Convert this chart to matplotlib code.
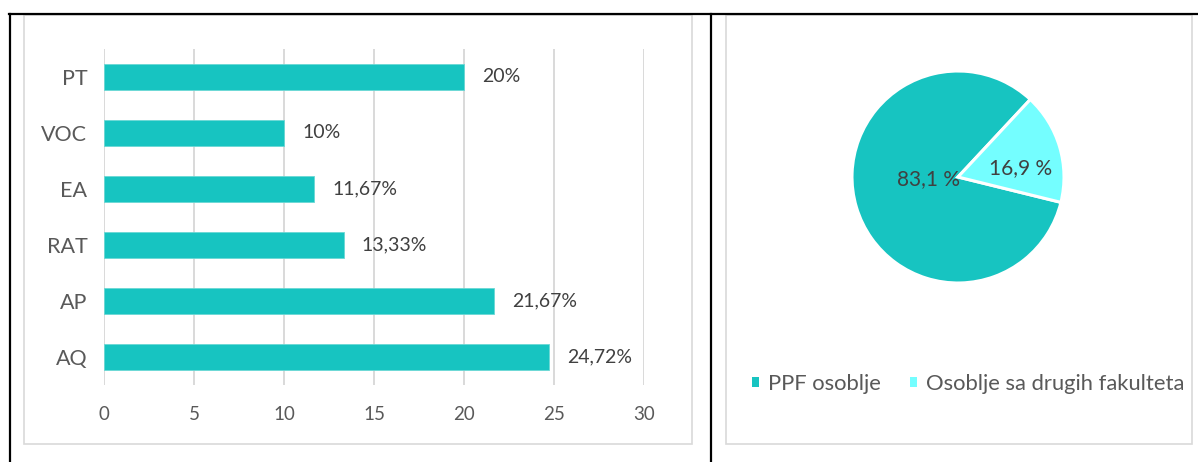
import matplotlib
matplotlib.use("Agg")
import matplotlib.pyplot as plt
from matplotlib.lines import Line2D
from matplotlib.patches import Rectangle

plt.rcParams['font.family'] = ['Lato', 'DejaVu Sans']

# ---- data ----
categories = ["PT", "VOC", "EA", "RAT", "AP", "AQ"]
values = [20, 10, 11.67, 13.33, 21.67, 24.72]
value_labels = ["20%", "10%", "11,67%", "13,33%", "21,67%", "24,72%"]
x_ticks = [0, 5, 10, 15, 20, 25, 30]

pie_labels = ["PPF osoblje", "Osoblje sa drugih fakulteta"]
pie_values = [83.1, 16.9]
pie_texts = ["83,1 %", "16,9 %"]

W, H = 1198, 462
fig = plt.figure(figsize=(W / 100, H / 100), dpi=100)

def fx(px):
    return px / W

def fy(py):
    return 1 - py / H

BAR = '#17C4C1'
LIGHT = '#74FEFF'
TXT = '#595959'
LBL = '#404040'
GRID = '#D9D9D9'

# ---- borders ----
for (x0, y0, x1, y1) in [(24, 15, 692, 444), (726, 15, 1192, 444)]:
    fig.add_artist(Rectangle((fx(x0), fy(y1)), fx(x1) - fx(x0), fy(y0) - fy(y1),
                             transform=fig.transFigure, fill=False,
                             edgecolor=GRID, linewidth=1.2))
fig.add_artist(Line2D([fx(9), fx(1198)], [fy(14), fy(14)], transform=fig.transFigure,
                      color='black', linewidth=1.6))
for xv in (10, 711):
    fig.add_artist(Line2D([fx(xv), fx(xv)], [fy(14), fy(462)], transform=fig.transFigure,
                          color='black', linewidth=1.6))

# ---- bar chart ----
ax = fig.add_axes([fx(104), fy(385), fx(644) - fx(104), fy(49) - fy(385)])
ypos = list(range(len(categories)))[::-1]
ax.barh(ypos, values, height=0.45, color=BAR, edgecolor='#6AD8D5', linewidth=0.6, zorder=3)
for y, v, t in zip(ypos, values, value_labels):
    ax.text(v + 1.0, y, t, va='center', ha='left', fontsize=14, color=LBL)
ax.set_xlim(0, 30)
ax.set_ylim(-0.5, len(categories) - 0.5)
ax.set_yticks(ypos)
ax.set_yticklabels(categories, fontsize=15.5, color=TXT)
ax.set_xticks(x_ticks)
ax.set_xticklabels([str(t) for t in x_ticks], fontsize=13.5, color=TXT)
ax.tick_params(axis='both', length=0)
ax.tick_params(axis='y', pad=12)
ax.tick_params(axis='x', pad=15)
ax.grid(axis='x', color=GRID, linewidth=1.4, zorder=0)
for s in ax.spines.values():
    s.set_visible(False)
ax.set_facecolor('none')

# ---- pie chart ----
pax = fig.add_axes([fx(852), fy(283), fx(1064) - fx(852), fy(71) - fy(283)])
wedges, _ = pax.pie(pie_values, colors=[BAR, LIGHT], startangle=47, counterclock=True,
                    wedgeprops=dict(edgecolor='white', linewidth=2.2))
pax.set_xlim(-1, 1)
pax.set_ylim(-1, 1)
pax.set_aspect('equal')
pax.text(-0.28, -0.02, pie_texts[0], ha='center', va='center', fontsize=15, color=LBL)
pax.text(0.59, 0.08, pie_texts[1], ha='center', va='center', fontsize=15, color=LBL)

leg = fig.legend(wedges, pie_labels, loc='center', bbox_to_anchor=(fx(968), fy(384)),
                 ncol=2, frameon=False, fontsize=15.8, handlelength=0.35, handleheight=0.35,
                 handletextpad=0.4, columnspacing=1.3, labelcolor=TXT)
for h in leg.legend_handles:
    h.set_edgecolor('none')

fig.savefig('out.png', dpi=100)
